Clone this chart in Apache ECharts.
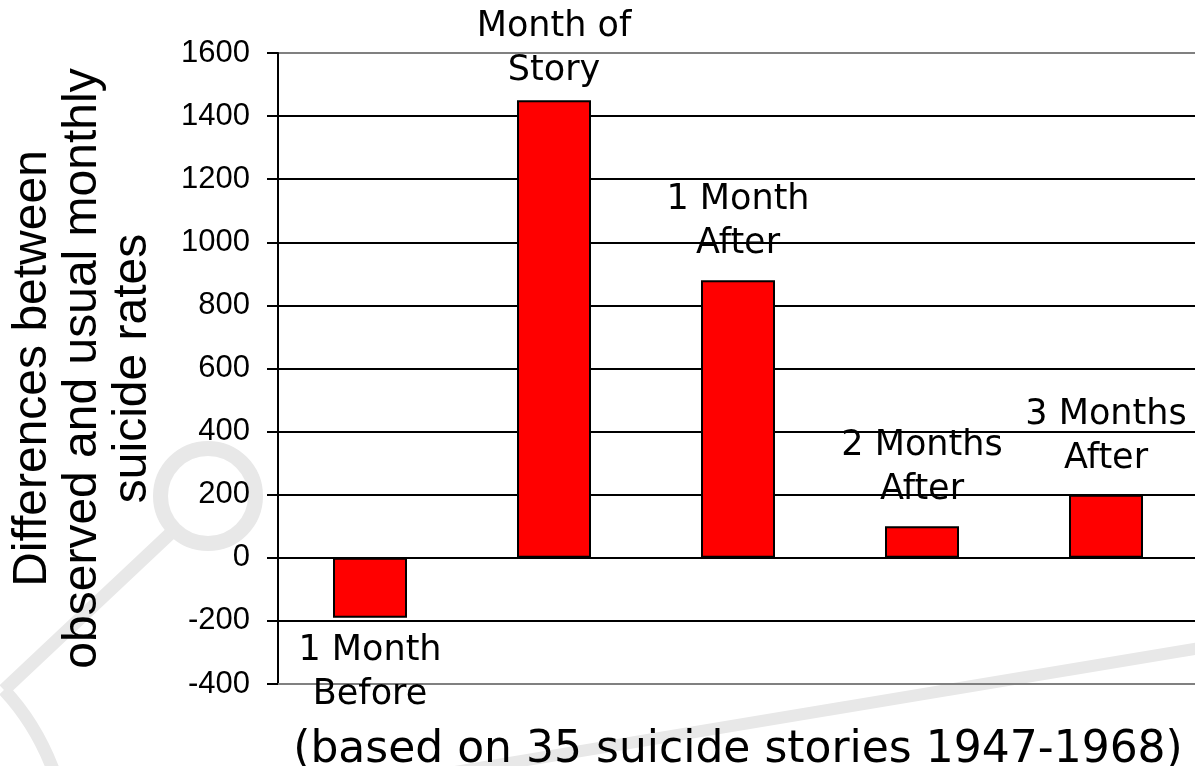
<!DOCTYPE html>
<html>
<head>
<meta charset="utf-8">
<title>Suicide rates around suicide stories</title>
<script src="https://cdn.jsdelivr.net/npm/echarts@6/dist/echarts.min.js"></script>
<style>
  html, body { margin: 0; padding: 0; background: #ffffff; }
  #chart { width: 1195px; height: 766px; }
</style>
</head>
<body>
<div id="chart"></div>
<script>
// Periods relative to the month a suicide story was published
const periods = ['1 Month\nBefore', 'Month of\nStory', '1 Month\nAfter', '2 Months\nAfter', '3 Months\nAfter'];
// Observed minus usual monthly suicides
const differences = [-190, 1450, 880, 100, 200];
// Value axis range
const yMin = -400;
const yMax = 1600;
const yStep = 200;

const labelFont = 'DejaVu Sans';
const tickFont = 'Liberation Sans';

const chart = echarts.init(document.getElementById('chart'), null, { renderer: 'canvas' });

// Grey split line at the frame edges, black in between
const gridCount = (yMax - yMin) / yStep + 1;
const gridColors = [];
for (let i = 0; i < gridCount; i++) {
  gridColors.push(i === 0 || i === gridCount - 1 ? '#808080' : '#000000');
}

const barData = differences.map((v, i) => {
  const item = { value: v };
  if (v < 0) {
    item.label = { position: 'bottom', distance: 11 };
  } else if (i === 1) {
    item.label = { distance: 7 };
  }
  return item;
});

const option = {
  backgroundColor: '#ffffff',
  animation: false,
  graphic: [
    // faint ring-and-line ornament behind the chart
    {
      type: 'circle', z: -10, silent: true,
      shape: { cx: 208, cy: 496, r: 47.5 },
      style: { fill: 'none', stroke: '#e8e8e8', lineWidth: 15 }
    },
    {
      type: 'polyline', z: -10, silent: true,
      shape: { points: [[174, 530], [4, 690]] },
      style: { fill: 'none', stroke: '#e8e8e8', lineWidth: 13 }
    },
    {
      type: 'bezierCurve', z: -10, silent: true,
      shape: { x1: 4, y1: 690, cpx1: 36, cpy1: 724, x2: 54, y2: 772 },
      style: { fill: 'none', stroke: '#e8e8e8', lineWidth: 13 }
    },
    {
      type: 'polyline', z: -10, silent: true,
      shape: { points: [[455, 772], [1200, 648]] },
      style: { fill: 'none', stroke: '#e8e8e8', lineWidth: 12 }
    }
  ],
  grid: {
    left: 278,
    right: -3,
    top: 53,
    bottom: 82,
    containLabel: false,
    outerBoundsMode: 'none'
  },
  xAxis: {
    type: 'category',
    data: periods,
    axisLine: { show: true, onZero: false, lineStyle: { color: '#808080', width: 2 } },
    axisTick: { show: false },
    axisLabel: { show: false },
    splitLine: { show: false },
    name: '(based on 35 suicide stories 1947-1968)',
    nameLocation: 'middle',
    nameGap: 45,
    nameTextStyle: {
      fontFamily: labelFont,
      fontSize: 44,
      color: '#000000'
    }
  },
  yAxis: {
    type: 'value',
    min: yMin,
    max: yMax,
    interval: yStep,
    axisLine: { show: true, lineStyle: { color: '#000000', width: 2 } },
    axisTick: { show: true, inside: false, length: 11, lineStyle: { color: '#000000', width: 2 } },
    axisLabel: {
      margin: 28,
      fontFamily: tickFont,
      fontSize: 31,
      color: '#000000',
      formatter: (v) => String(v)
    },
    splitLine: { show: true, lineStyle: { color: gridColors, width: 2 } },
    name: 'Differences between\nobserved and usual monthly\nsuicide rates',
    nameLocation: 'middle',
    nameRotate: 90,
    nameGap: 120,
    nameTextStyle: {
      fontFamily: tickFont,
      fontSize: 48,
      lineHeight: 50,
      align: 'center',
      color: '#000000'
    }
  },
  series: [{
    type: 'bar',
    data: barData,
    barWidth: 74,
    itemStyle: {
      color: '#ff0000',
      borderColor: '#000000',
      borderWidth: 2
    },
    label: {
      show: true,
      position: 'top',
      distance: 14,
      formatter: (p) => periods[p.dataIndex],
      fontFamily: labelFont,
      fontSize: 35,
      lineHeight: 44,
      color: '#000000',
      align: 'center'
    }
  }]
};

chart.setOption(option);
</script>
</body>
</html>
